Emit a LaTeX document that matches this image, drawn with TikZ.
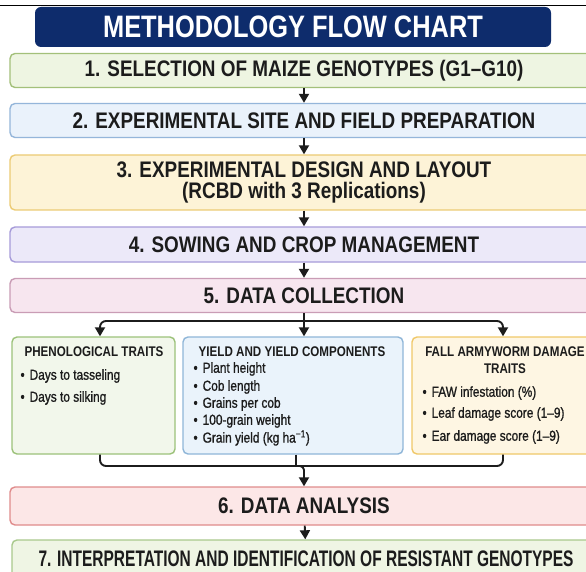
\documentclass[tikz,border=0pt]{standalone}
\usepackage{fontspec}
\setmainfont{Liberation Sans}
\newfontfamily\hdfont[FakeStretch=0.84]{Liberation Sans}
\newfontfamily\ttlfont[FakeStretch=0.82]{Liberation Sans}
\newfontfamily\shfont[FakeStretch=0.83]{Liberation Sans}
\newfontfamily\itfont[FakeStretch=0.82,FakeBold=1]{Liberation Sans}
\usetikzlibrary{arrows.meta}
\definecolor{ink}{HTML}{1C1C1C}
\definecolor{navy}{HTML}{0E2C6C}
\definecolor{bAf}{HTML}{EEF5E2}\definecolor{bAd}{HTML}{A3C07A}
\definecolor{bBf}{HTML}{EAF2FB}\definecolor{bBd}{HTML}{95B6DA}
\definecolor{bCf}{HTML}{FDF3D7}\definecolor{bCd}{HTML}{ECCB74}
\definecolor{bDf}{HTML}{ECE9F9}\definecolor{bDd}{HTML}{A69BD9}
\definecolor{bEf}{HTML}{F7E6EF}\definecolor{bEd}{HTML}{C99CB5}
\definecolor{slf}{HTML}{F2F7EB}\definecolor{sld}{HTML}{9CC27A}
\definecolor{smf}{HTML}{EAF3FB}\definecolor{smd}{HTML}{8FB6D8}
\definecolor{srf}{HTML}{FEF6E3}\definecolor{srd}{HTML}{F0C869}
\definecolor{bFf}{HTML}{FCE7E7}\definecolor{bFd}{HTML}{E08C8C}
\definecolor{bGf}{HTML}{EFF5E4}\definecolor{bGd}{HTML}{A9C98C}
\begin{document}
\begin{tikzpicture}[x=1pt,y=-1pt,
  fb/.style 2 args={draw=#2, fill=#1, line width=1.4pt, rounded corners=5pt,
    minimum width=588pt, inner sep=0pt, text=ink, align=center,
    font=\hdfont\bfseries\fontsize{22.5}{21}\selectfont},
  sub/.style 2 args={draw=#2, fill=#1, line width=1.4pt, rounded corners=5pt,
    minimum height=117pt, inner sep=0pt},
  subhead/.style={inner sep=0pt, text=ink, align=center,
    font=\shfont\bfseries\fontsize{14}{17}\selectfont},
  item/.style={inner sep=0pt, anchor=west, text=ink,
    font=\itfont\fontsize{14.5}{14}\selectfont},
  conn/.style={draw=ink, line width=1.9pt},
  tip/.style={-{Triangle[width=10pt,length=9pt]}},
  arr/.style={conn, tip},
]
\useasboundingbox (0,0) rectangle (586,572);
\clip (0,0) rectangle (586,572);
\fill[white] (0,0) rectangle (586,572);
\draw[black, line width=0.9pt] (0,5) -- (586,5);

% title
\node[fill=navy, rounded corners=6pt, minimum width=516pt, minimum height=40pt,
  inner sep=0pt, text=white, font=\ttlfont\bfseries\fontsize{31}{31}\selectfont]
  (title) at (293,27) {METHODOLOGY FLOW CHART};

% main boxes
\node[fb={bAf}{bAd}, minimum height=34pt] (b1) at (304,70.5)
  {1. SELECTION OF MAIZE GENOTYPES (G1–G10)};
\node[fb={bBf}{bBd}, minimum height=34pt] (b2) at (304,120.5)
  {2. EXPERIMENTAL SITE AND FIELD PREPARATION};
\node[fb={bCf}{bCd}, minimum height=55pt] (b3) at (304,182.5)
  {3. EXPERIMENTAL DESIGN AND LAYOUT\\(RCBD with 3 Replications)};
\node[fb={bDf}{bDd}, minimum height=35pt] (b4) at (304,244.5)
  {4. SOWING AND CROP MANAGEMENT};
\node[fb={bEf}{bEd}, minimum height=34pt] (b5) at (304,295.5)
  {5. DATA COLLECTION};

% sub boxes
\node[sub={slf}{sld}, minimum width=163pt] (sl) at (93.5,395.5) {};
\node[sub={smf}{smd}, minimum width=220pt] (sm) at (293,395.5) {};
\node[sub={srf}{srd}, minimum width=182pt] (sr) at (503,395.5) {};

\node[subhead] (slh) at (94,352) {PHENOLOGICAL TRAITS};
\node[item] (sl1) at (20.3,376) {•\hspace{5pt}Days to tasseling};
\node[item] (sl2) at (20.3,398) {•\hspace{5pt}Days to silking};

\node[subhead] (smh) at (292,352) {YIELD AND YIELD COMPONENTS};
\node[item] (sm1) at (193.3,369) {•\hspace{5pt}Plant height};
\node[item] (sm2) at (193.3,387) {•\hspace{5pt}Cob length};
\node[item] (sm3) at (193.3,404) {•\hspace{5pt}Grains per cob};
\node[item] (sm4) at (193.3,421) {•\hspace{5pt}100-grain weight};
\node[item] (sm5) at (193.3,438) {•\hspace{5pt}Grain yield (kg ha\textsuperscript{−1})};

\node[subhead] (srh) at (505,360.5) {FALL ARMYWORM DAMAGE\\TRAITS};
\node[item] (sr1) at (422.3,393) {•\hspace{5pt}FAW infestation (\%)};
\node[item] (sr2) at (422.3,414) {•\hspace{5pt}Leaf damage score (1–9)};
\node[item] (sr3) at (422.3,437) {•\hspace{5pt}Ear damage score (1–9)};

\node[fb={bFf}{bFd}, minimum height=38pt] (b6) at (304,506)
  {6. DATA ANALYSIS};
\node[fb={bGf}{bGd}, minimum height=38pt] (b7) at (306,559)
  {\scalebox{0.82}[1]{7. INTERPRETATION AND IDENTIFICATION OF RESISTANT GENOTYPES}};

% connectors
\draw[arr] (b1) -- (b2);
\draw[arr] (b2) -- (b3);
\draw[arr] (b3) -- (b4);
\draw[arr] (b4) -- (b5);

\coordinate (j1) at (304,321);
\draw[conn] (b5.south) -- (j1);
\draw[arr, rounded corners=6pt] (j1) -| ([xshift=6.5pt]sl.north);
\draw[arr] (j1) -- ([xshift=11pt]sm.north);
\draw[arr, rounded corners=6pt] (j1) -| (sr.north);

\coordinate (j2) at (296,466);
\draw[conn, rounded corners=6pt] ([xshift=6.5pt]sl.south) |- (j2);
\draw[conn, rounded corners=6pt] (sr.south) |- (j2);
\draw[conn] ([xshift=3pt]sm.south) -- (j2);
\draw[arr, rounded corners=4pt] (j2) -| (b6.north);
\draw[arr] (b6) -- (b7);
\end{tikzpicture}
\end{document}
